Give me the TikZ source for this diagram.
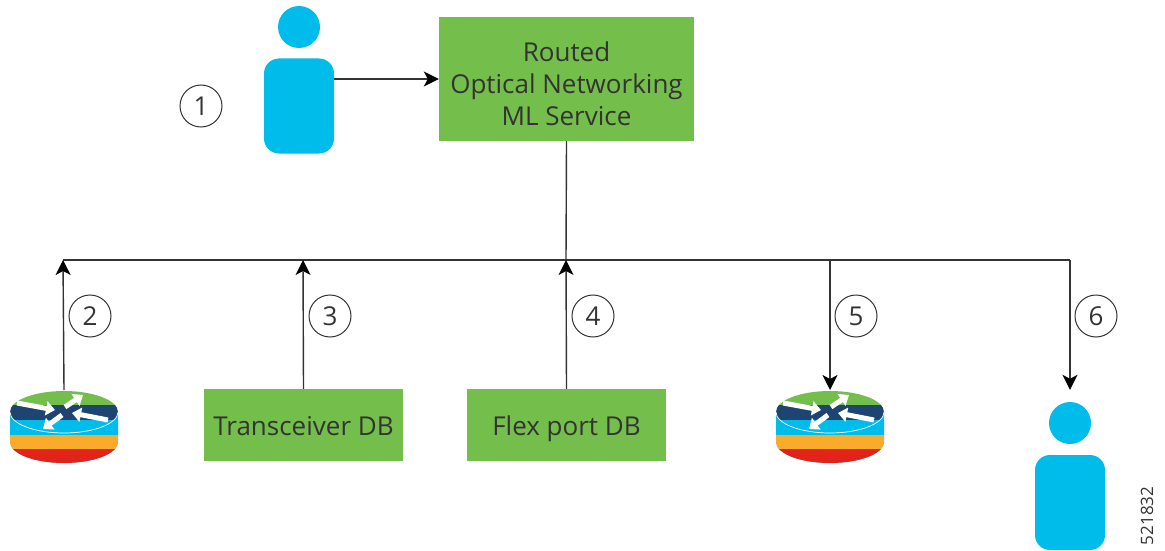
\documentclass[tikz,border=0pt]{standalone}
\usepackage{fontspec}
\setmainfont{Open Sans}
\usetikzlibrary{arrows.meta}

\definecolor{boxgreen}{HTML}{74BF4B}
\definecolor{personblue}{HTML}{00BCEB}
\definecolor{routernavy}{HTML}{1E4471}
\definecolor{routerorange}{HTML}{FBAB2C}
\definecolor{routerred}{HTML}{E2231A}
\definecolor{linegray}{HTML}{333333}

\begin{document}
\begin{tikzpicture}[
  x=1pt,
  y=-1pt,
  service/.style={
    draw=none,
    fill=boxgreen,
    minimum width=255pt,
    minimum height=124pt,
    inner sep=0pt
  },
  service text/.style={
    align=center,
    yshift=-5pt,
    inner sep=0pt,
    text=linegray,
    font=\fontsize{26}{32}\selectfont
  },
  dbase/.style={
    draw=none,
    fill=boxgreen,
    minimum width=199pt,
    minimum height=72pt,
    inner sep=0pt,
    text height=24pt,
    text depth=4pt,
    text=linegray,
    font=\fontsize{26}{28}\selectfont
  },
  head/.style={
    circle,
    fill=personblue,
    minimum size=42pt,
    inner sep=0pt
  },
  torso/.style={
    rectangle,
    rounded corners=15pt,
    fill=personblue,
    minimum width=70pt,
    minimum height=95pt,
    inner sep=0pt
  },
  step number/.style={
    draw=linegray,
    circle,
    line width=1pt,
    minimum size=42pt,
    inner sep=0pt,
    text=linegray,
    font=\fontsize{26}{28}\selectfont
  },
  link/.style={
    line width=1.4pt,
    draw=linegray
  },
  flow/.style={
    link,
    -{Stealth[length=15pt,width=15pt,inset=4pt,color=black]}
  },
  turn/.style={
    white,
    line width=5pt,
    -{Triangle[length=9pt,width=14pt]}
  },
  router/.pic={
    % Side
    \fill[personblue] (-54,0) -- (-54,30)
      arc[start angle=180,end angle=360,x radius=54pt,y radius=21pt]
      -- (54,0) -- cycle;
    \begin{scope}
      \clip (-54,0) -- (-54,30)
        arc[start angle=180,end angle=360,x radius=54pt,y radius=21pt]
        -- (54,0) -- cycle;
      \fill[routerorange] (-54,23) rectangle (54,37);
      \fill[routerred] (-54,37) rectangle (54,52);
    \end{scope}
    % Top
    \begin{scope}
      \clip (0,0) ellipse [x radius=54pt,y radius=21pt];
      \fill[boxgreen] (-54,-21) rectangle (54,-7);
      \fill[routernavy] (-54,-7) rectangle (54,8);
      \fill[personblue] (-54,8) rectangle (54,21);
    \end{scope}
    \draw[white,line width=0.7pt] (-54,0)
      arc[start angle=180,end angle=360,x radius=54pt,y radius=21pt];
    % Arrows
    \draw[turn] (-47,-9) -- (-9,-2);
    \draw[turn] (44,8) -- (8,1);
    \draw[turn] (1,-5) -- (19,-17);
    \draw[turn] (-2,3) -- (-21,17);
    \node[minimum width=108pt,minimum height=73pt,inner sep=0pt,outer sep=1pt]
      (body) at (0,15.5) {};
  }
]

\useasboundingbox (0,0) rectangle (1165,551);

% Top row
\node[head] (user-head) at (299,27) {};
\node[torso] (user) at (299,106) {};
\node[service,label={[service text]center:Routed\\Optical Networking\\ML Service}] (ml) at (566.5,79) {};
\node[step number] (s1) at (201,106) {1};

% Bottom row
\pic (edge-) at (64,412) {router};
\node[dbase] (trans) at (303.5,425) {Transceiver DB};
\node[dbase] (flex) at (566.5,425) {Flex port DB};
\pic (core-) at (830,412) {router};
\node[head] (oper-head) at (1070,423) {};
\node[torso] (oper) at (1070,502.5) {};

% Numbers
\node[step number] (s2) at (90,316) {2};
\node[step number] (s3) at (330,316) {3};
\node[step number] (s4) at (593,316) {4};
\node[step number] (s5) at (856,316) {5};
\node[step number] (s6) at (1096,316) {6};

% Bus
\coordinate (bus-a) at (63,260);
\coordinate (bus-b) at (303,260);
\coordinate (bus-c) at (566,260);
\coordinate (bus-d) at (830,260);
\coordinate (bus-e) at (1070,260);
\draw[link] (bus-a) -- (bus-e);
\draw[link] (ml.south) -- (bus-c);

% Arrows
\draw[flow] (user.east |- ml.west) -- (ml.west);
\draw[flow] (edge-body.north) -- (bus-a);
\draw[flow] (trans.north) -- (bus-b);
\draw[flow] (flex.north) -- (bus-c);
\draw[flow] (bus-d) -- (core-body.north);
\draw[flow] (bus-e) -- ([yshift=12pt]oper-head.north);

% Figure number
\node[rotate=90,font=\fontsize{17}{18}\selectfont,text=linegray] (fignum) at (1147,516) {521832};

\end{tikzpicture}
\end{document}
